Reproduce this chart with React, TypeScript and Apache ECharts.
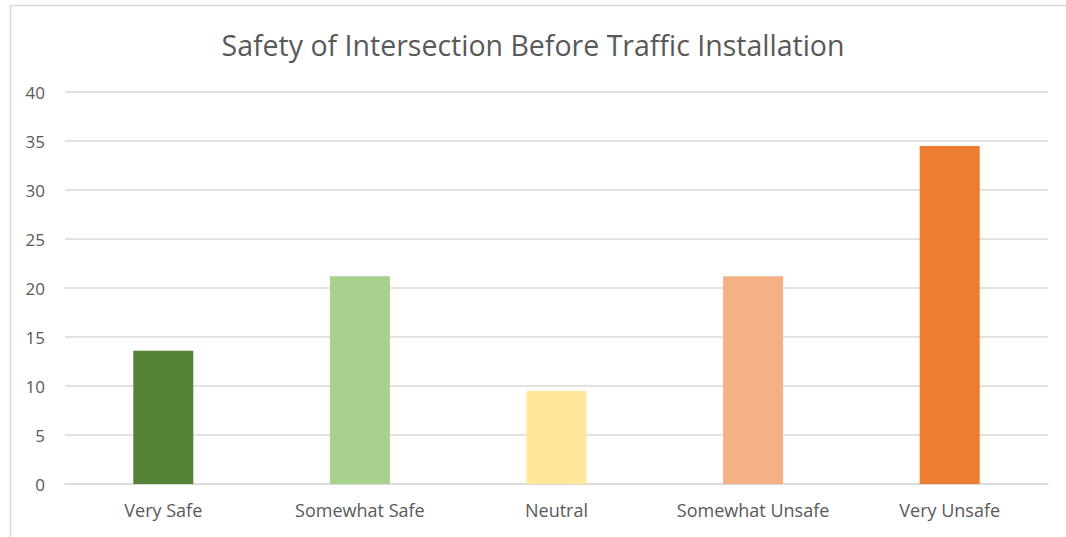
import React, { useEffect, useRef } from "react";
import * as echarts from "echarts";

const categories = ["Very Safe", "Somewhat Safe", "Neutral", "Somewhat Unsafe", "Very Unsafe"];
const values = [13.6, 21.2, 9.5, 21.2, 34.5];
const colors = ["#548235", "#A9D18E", "#FFE699", "#F4B183", "#ED7D31"];
const titleText = "Safety of Intersection Before Traffic Installation";

export default function App() {
  const ref = useRef<HTMLDivElement>(null);
  useEffect(() => {
    if (!ref.current) return;
    const chart = echarts.init(ref.current, null, { renderer: "svg" });
    chart.setOption({
      animation: false,
      backgroundColor: "#ffffff",
      title: {
        text: titleText,
        left: "center",
        top: 25,
        textStyle: { fontFamily: "Open Sans", fontSize: 28.5, fontWeight: "normal", color: "#595959" },
      },
      graphic: [
        {
          type: "rect",
          shape: { x: 10.5, y: 5.5, width: 1200, height: 700 },
          style: { fill: "none", stroke: "#d9d9d9", lineWidth: 1.5 },
          silent: true,
        },
      ],
      grid: { left: 65, right: 18, top: 92, bottom: 53 },
      xAxis: {
        type: "category",
        data: categories,
        axisLine: { show: true, lineStyle: { color: "#d9d9d9", width: 1.5 } },
        axisTick: { show: false },
        axisLabel: { interval: 0, color: "#595959", fontFamily: "Open Sans", fontSize: 18, margin: 17 },
      },
      yAxis: {
        type: "value",
        min: 0,
        max: 40,
        interval: 5,
        axisLine: { show: false },
        axisTick: { show: false },
        splitLine: { lineStyle: { color: "#d9d9d9", width: 1.5 } },
        axisLabel: { color: "#595959", fontFamily: "Open Sans", fontSize: 17, margin: 20 },
      },
      series: [
        {
          type: "bar",
          barWidth: 60,
          data: values.map((v, i) => ({ value: v, itemStyle: { color: colors[i] } })),
        },
      ],
    });
    return () => chart.dispose();
  }, []);
  return (
    <div
      ref={ref}
      style={{ position: "fixed", left: 0, top: 0, width: 1066, height: 537 }}
    />
  );
}
